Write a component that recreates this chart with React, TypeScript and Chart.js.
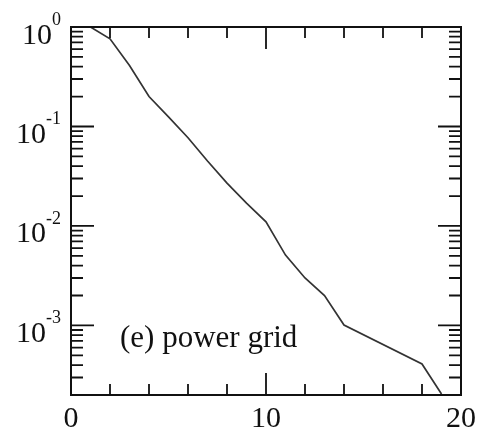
import React, { useEffect, useRef } from "react";
import { Chart, registerables } from "chart.js";

Chart.register(...registerables);

const xValues = [1, 2, 3, 4, 5, 6, 7, 8, 9, 10, 11, 12, 13, 14, 18, 19];
const yValues = [1, 0.76, 0.41, 0.2, 0.125, 0.077, 0.045, 0.027, 0.017, 0.011, 0.0051, 0.003, 0.002, 0.00101, 0.00041, 0.000205];
const yDecades = [0, -1, -2, -3];
const xTickLabels = [0, 10, 20];
const xMinorTicks = [2, 4, 6, 8, 12, 14, 16, 18];
const annotationText = "(e) power grid";

const FONT = '"Liberation Serif", "DejaVu Serif", serif';

const framePlugin = {
  id: "frameTicks",
  afterDatasetsDraw(chart: any) {
    const { ctx, chartArea } = chart;
    const xs = chart.scales.x;
    const ys = chart.scales.y;
    const { left, right, top, bottom } = chartArea;
    ctx.save();
    ctx.strokeStyle = "#111";
    ctx.lineWidth = 2;
    ctx.strokeRect(left, top, right - left, bottom - top);

    ctx.lineWidth = 1.8;
    ctx.beginPath();
    for (const d of yDecades) {
      const py = ys.getPixelForValue(Math.pow(10, d));
      ctx.moveTo(left, py); ctx.lineTo(left + 23, py);
      ctx.moveTo(right, py); ctx.lineTo(right - 23, py);
      for (let k = 2; k <= 9; k++) {
        const v = k * Math.pow(10, d - 1);
        if (v < ys.min || v > ys.max) continue;
        const pm = ys.getPixelForValue(v);
        ctx.moveTo(left, pm); ctx.lineTo(left + 12, pm);
        ctx.moveTo(right, pm); ctx.lineTo(right - 12, pm);
      }
    }
    for (const v of xMinorTicks) {
      const px = xs.getPixelForValue(v);
      ctx.moveTo(px, bottom); ctx.lineTo(px, bottom - 11);
      ctx.moveTo(px, top); ctx.lineTo(px, top + 11);
    }
    for (const v of xTickLabels) {
      const px = xs.getPixelForValue(v);
      ctx.moveTo(px, bottom); ctx.lineTo(px, bottom - 22);
      ctx.moveTo(px, top); ctx.lineTo(px, top + 22);
    }
    ctx.stroke();

    ctx.fillStyle = "#111";
    ctx.textBaseline = "alphabetic";
    for (const d of yDecades) {
      const py = ys.getPixelForValue(Math.pow(10, d));
      const sup = String(d);
      ctx.font = `18px ${FONT}`;
      const sw = ctx.measureText(sup).width;
      const rightEdge = left - 10;
      ctx.textAlign = "left";
      ctx.fillText(sup, rightEdge - sw, py - 2);
      ctx.font = `30px ${FONT}`;
      ctx.textAlign = "right";
      ctx.fillText("10", rightEdge - sw, py + 16.5);
    }
    ctx.font = `30px ${FONT}`;
    ctx.textAlign = "center";
    for (const v of xTickLabels) {
      const px = xs.getPixelForValue(v);
      ctx.fillText(String(v), px, bottom + 32);
    }
    ctx.font = `31px ${FONT}`;
    ctx.textAlign = "left";
    ctx.fillText(annotationText, left + 49, bottom - 48);
    ctx.restore();
  },
};

export default function App() {
  const ref = useRef<HTMLCanvasElement>(null);
  useEffect(() => {
    if (!ref.current) return;
    const chart = new Chart(ref.current, {
      type: "line",
      data: {
        datasets: [
          {
            data: xValues.map((x, i) => ({ x, y: yValues[i] })),
            borderColor: "#333",
            borderWidth: 1.7,
            pointRadius: 0,
            fill: false,
            tension: 0,
          },
        ],
      },
      options: {
        responsive: false,
        animation: false,
        layout: { padding: { left: 71, right: 18, top: 27, bottom: 35 } },
        plugins: { legend: { display: false }, tooltip: { enabled: false } },
        scales: {
          x: { type: "linear", min: 0, max: 20, display: false },
          y: { type: "logarithmic", min: 0.0002, max: 1, display: false },
        },
      },
      plugins: [framePlugin],
    });
    return () => chart.destroy();
  }, []);
  return (
    <canvas
      ref={ref}
      width={479}
      height={430}
      style={{ position: "fixed", left: 0, top: 0, width: 479, height: 430, background: "#fff" }}
    />
  );
}
